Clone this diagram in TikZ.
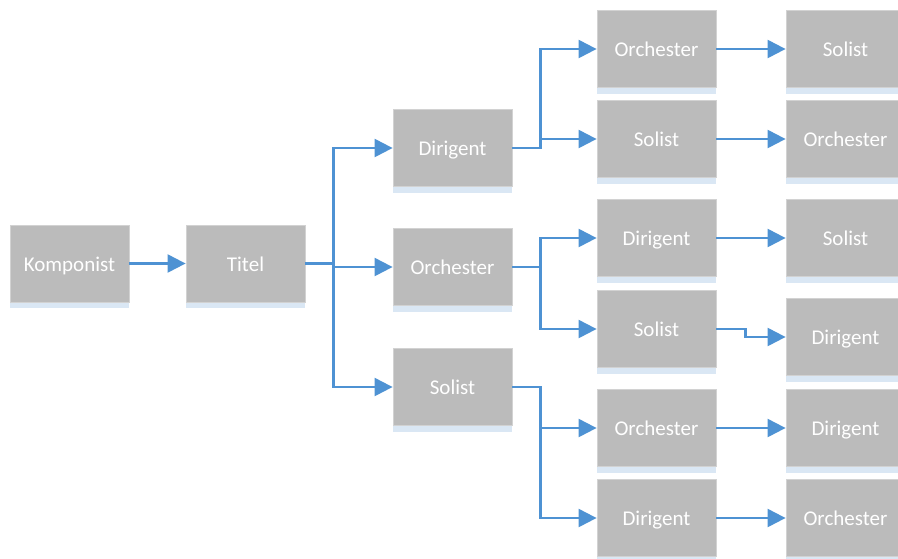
\documentclass[tikz,border=0pt]{standalone}
\usepackage{fontspec}
\setmainfont{Carlito}
\usetikzlibrary{arrows.meta,shadows}
\definecolor{boxfill}{HTML}{BBBBBB}
\definecolor{boxline}{HTML}{D2D2D2}
\definecolor{stripe}{HTML}{DAE7F4}
\definecolor{link}{HTML}{4E92D3}
\tikzset{
  card/.style={draw=boxline, line width=0.8pt, fill=boxfill,
    minimum width=119pt, minimum height=77pt, inner sep=0pt,
    text height=15pt, text depth=0pt,
    text=white, font=\fontsize{21}{25}\selectfont,
    drop shadow={shadow xshift=0pt, shadow yshift=-6pt, fill=stripe, opacity=1, draw=none}},
  link/.style={draw=link, line width=2.2pt,
    -{Triangle[length=18pt,width=18pt]}}
}
\begin{document}
\begin{tikzpicture}[x=1pt,y=-1pt]
\useasboundingbox (0,0) rectangle (898,558);
% first two stages
\node[card] (komp) at (69.5,263.5) {Komponist};
\node[card] (titel) at (245.5,263.5) {Titel};
% second stage
\node[card] (a) at (452.5,148) {Dirigent};
\node[card] (b) at (452.5,267) {Orchester};
\node[card] (c) at (452.5,387) {Solist};
% third stage
\node[card] (a1) at (656.5,49) {Orchester};
\node[card] (a2) at (656.5,139) {Solist};
\node[card] (b1) at (656.5,238) {Dirigent};
\node[card] (b2) at (656.5,329) {Solist};
\node[card] (c1) at (656.5,428) {Orchester};
\node[card] (c2) at (656.5,518) {Dirigent};
% last stage
\node[card] (a1x) at (845.5,49) {Solist};
\node[card] (a2x) at (845.5,139) {Orchester};
\node[card] (b1x) at (845.5,238) {Solist};
\node[card] (b2x) at (845.5,337) {Dirigent};
\node[card] (c1x) at (845.5,428) {Dirigent};
\node[card] (c2x) at (845.5,518) {Orchester};
% connectors
\draw[link] (komp.east) -- (titel.west);
\foreach \t in {a,b,c}
  \draw[link] (titel.east) -- ++(28,0) |- (\t.west);
\draw[link] (a.east) -- ++(28,0) |- (a1.west);
\draw[link] (a.east) -- ++(28,0) |- (a2.west);
\draw[link] (b.east) -- ++(28,0) |- (b1.west);
\draw[link] (b.east) -- ++(28,0) |- (b2.west);
\draw[link] (c.east) -- ++(28,0) |- (c1.west);
\draw[link] (c.east) -- ++(28,0) |- (c2.west);
\draw[link] (a1.east) -- (a1x.west);
\draw[link] (a2.east) -- (a2x.west);
\draw[link] (b1.east) -- (b1x.west);
\draw[link] (b2.east) -- ++(29,0) |- (b2x.west);
\draw[link] (c1.east) -- (c1x.west);
\draw[link] (c2.east) -- (c2x.west);
\end{tikzpicture}
\end{document}
